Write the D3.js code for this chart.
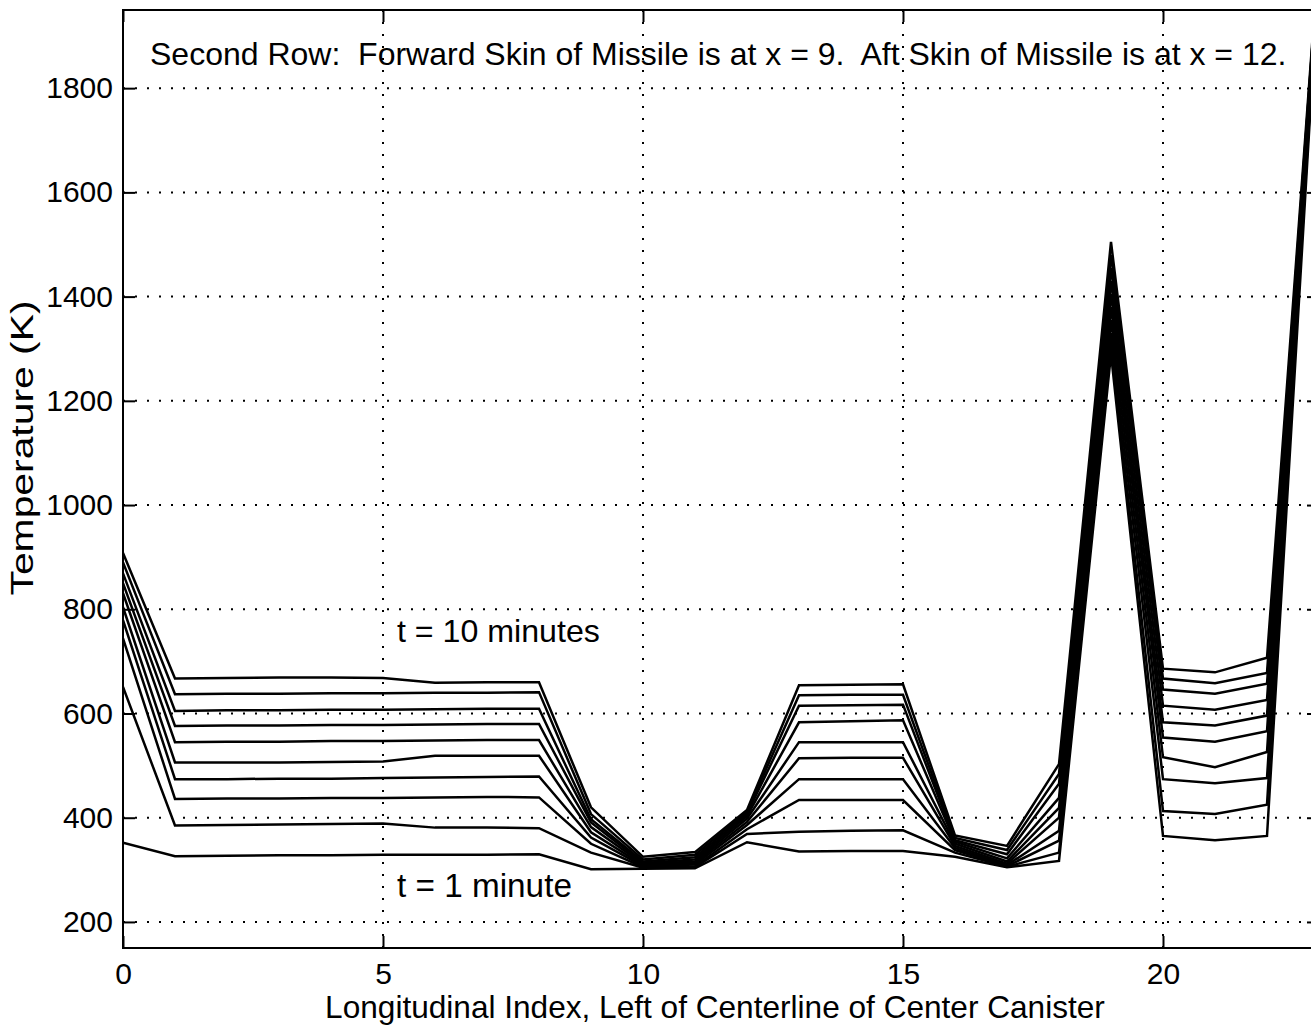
<!DOCTYPE html>
<html><head><meta charset="utf-8">
<script src="https://cdn.jsdelivr.net/npm/d3@7"></script>
<style>
body{margin:0;background:#fff;}
text{font-family:Helvetica, Arial, "Liberation Sans", sans-serif;fill:#000;white-space:pre;}
</style>
</head><body>
<svg id="chart" width="1311" height="1027"></svg>
<script>
// ---- data ----
const xIndex = [0,1,2,3,4,5,6,7,8,9,10,11,12,13,14,15,16,17,18,19,20,21,22,23];
const t1  = [352,326,327,328,328,329,329,329,330,301,302,303,353,335,336,336,325,305,317,1290,365,357,365,2035];
const t2  = [651,385,386,387,388,389,381,381,380,333,304,305,369,373,375,376,333,306,333,1310,413,407,425,2045];
const t3  = [744,436,437,437,438,438,439,440,439,350,305,307,378,434,434,434,338,307,356,1330,474,466,476,2040];
const t4  = [779,474,474,475,475,476,477,478,479,362,307,310,386,474,474,474,342,309,375,1355,516,497,526,2050];
const t5  = [804,506,506,506,507,508,519,519,519,372,309,313,392,514,515,515,346,312,400,1380,554,546,566,2048];
const t6  = [831,545,546,546,547,547,548,549,549,382,311,316,398,545,545,545,350,316,419,1405,583,577,596,2055];
const t7  = [850,576,577,577,578,578,579,580,580,391,313,320,403,583,585,587,354,322,438,1430,615,607,626,2052];
const t8  = [869,605,606,606,607,607,608,609,609,397,316,324,407,615,616,617,357,330,465,1455,646,638,657,2060];
const t9  = [890,637,638,638,639,639,640,640,641,407,320,329,411,635,636,636,361,338,484,1480,667,658,678,2058];
const t10 = [908,667,668,669,669,668,659,660,660,420,325,334,415,654,655,656,366,346,503,1505,686,679,707,2065];
const series = [t1,t2,t3,t4,t5,t6,t7,t8,t9,t10];
const xTicks = [0,5,10,15,20];
const yTicks = [200,400,600,800,1000,1200,1400,1600,1800];
const xDomain = [0,23];
const yDomain = [150,1950];
const titleText = "Second Row:  Forward Skin of Missile is at x = 9.  Aft Skin of Missile is at x = 12.";
const xLabel = "Longitudinal Index, Left of Centerline of Center Canister";
const yLabel = "Temperature (K)";
const noteTop = "t = 10 minutes";
const noteBottom = "t = 1 minute";

// ---- layout ----
const L = 123, R = 1319, T = 10, B = 948;
const svg = d3.select("#chart");
const x = d3.scaleLinear().domain(xDomain).range([L, R]);
const y = d3.scaleLinear().domain(yDomain).range([B, T]);

svg.append("defs").append("clipPath").attr("id","plotclip")
  .append("rect").attr("x",L).attr("y",T).attr("width",R-L).attr("height",B-T);

// grid
const grid = svg.append("g").attr("stroke","#000").attr("stroke-width",2).attr("stroke-dasharray","2,10").attr("fill","none");
grid.selectAll(".gx").data(xTicks.filter(d=>d>xDomain[0])).enter().append("line")
  .attr("x1",d=>x(d)).attr("x2",d=>x(d)).attr("y1",T).attr("y2",B);
grid.selectAll(".gy").data(yTicks).enter().append("line")
  .attr("x1",L).attr("x2",R).attr("y1",d=>y(d)).attr("y2",d=>y(d));

// lines
const line = d3.line().x((d,i)=>x(xIndex[i])).y(d=>y(d));
svg.append("g").attr("clip-path","url(#plotclip)").selectAll("path").data(series).enter().append("path")
  .attr("d",line).attr("fill","none").attr("stroke","#000").attr("stroke-width",2.5).attr("stroke-linejoin","miter");

// axes with inward ticks
const tickLen = 12;
const axB = svg.append("g").attr("transform",`translate(0,${B})`).call(d3.axisBottom(x).tickValues(xTicks).tickSize(-tickLen).tickFormat(d3.format("d")));
const axT = svg.append("g").attr("transform",`translate(0,${T})`).call(d3.axisTop(x).tickValues(xTicks).tickSize(-tickLen).tickFormat(""));
const axL = svg.append("g").attr("transform",`translate(${L},0)`).call(d3.axisLeft(y).tickValues(yTicks).tickSize(-tickLen).tickFormat(d3.format("d")));
const axR = svg.append("g").attr("transform",`translate(${R},0)`).call(d3.axisRight(y).tickValues(yTicks).tickSize(-tickLen).tickFormat(""));
[axB,axT,axL,axR].forEach(a=>{
  a.select(".domain").remove();
  a.selectAll(".tick line").attr("stroke","#000").attr("stroke-width",2);
  a.selectAll(".tick text").attr("font-size",30).attr("font-family",null).attr("fill","#000");
});
axB.selectAll(".tick text").attr("dy",null).attr("y",36);
axL.selectAll(".tick text").attr("x",-10);
// frame
svg.append("rect").attr("x",L).attr("y",T).attr("width",R-L).attr("height",B-T)
  .attr("fill","none").attr("stroke","#000").attr("stroke-width",2);

function fit(sel, w){
  const fs = +sel.attr("font-size");
  const len = sel.node().getComputedTextLength();
  sel.attr("font-size", fs*w/len);
}
// title inside plot
const tt = svg.append("text").attr("x",150).attr("y",65).attr("font-size",30).text(titleText);
fit(tt, 1137);
// annotations
const n1 = svg.append("text").attr("x",397).attr("y",642).attr("font-size",30).text(noteTop);
fit(n1, 203);
const n2 = svg.append("text").attr("x",397).attr("y",897).attr("font-size",30).text(noteBottom);
fit(n2, 175);
// axis labels
const xl = svg.append("text").attr("x",715).attr("y",1018).attr("text-anchor","middle").attr("font-size",30).text(xLabel);
fit(xl, 780);
svg.append("text").attr("transform","translate(33,448) rotate(-90)").attr("text-anchor","middle")
  .attr("font-size",31).attr("textLength",295).attr("lengthAdjust","spacingAndGlyphs").text(yLabel);
</script>
</body></html>
